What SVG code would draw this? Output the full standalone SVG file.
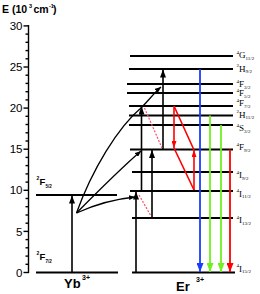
<svg xmlns="http://www.w3.org/2000/svg" width="260" height="294" viewBox="0 0 260 294">
<style>
.lvl{stroke:#000;stroke-width:1.8}
.ax{stroke:#000;stroke-width:1.4}
.tk{font-family:"Liberation Sans",Arial,sans-serif;font-size:11.5px;text-anchor:end;fill:#000}
.lb{font-family:"Liberation Serif","Times New Roman",serif;fill:#000}
.lb .m{font-size:9px}
.lb .s{font-size:5px}
.yl{font-family:"Liberation Sans",Arial,sans-serif;font-weight:bold;fill:#000}
.arr{stroke:#000;stroke-width:1.6;fill:none}
.cur{stroke:#000;stroke-width:1.3;fill:none}
.red{stroke:#ff0000;stroke-width:1.6;fill:none}
.dash{stroke:#ff4d6a;stroke-width:1.2;stroke-dasharray:2 1.5;fill:none}
.em{stroke-width:1.8;fill:none}
</style>
<defs>
<marker id="hk" viewBox="0 0 8 6" refX="8" refY="3" markerWidth="8" markerHeight="6" orient="auto" markerUnits="userSpaceOnUse"><path d="M0,0 L8,3 L0,6 z" fill="#000"/></marker>
<marker id="hs" viewBox="0 0 6 5" refX="6" refY="2.5" markerWidth="6" markerHeight="5" orient="auto" markerUnits="userSpaceOnUse"><path d="M0,0 L6,2.5 L0,5 z" fill="#000"/></marker>
<marker id="hr" viewBox="0 0 7 5" refX="7" refY="2.5" markerWidth="7" markerHeight="5" orient="auto" markerUnits="userSpaceOnUse"><path d="M0,0 L7,2.5 L0,5 z" fill="#ff0000"/></marker>
<marker id="hR" viewBox="0 0 9 7" refX="9" refY="3.5" markerWidth="9" markerHeight="7" orient="auto" markerUnits="userSpaceOnUse"><path d="M0,0 L9,3.5 L0,7 z" fill="#ff0000"/></marker>
<marker id="hb" viewBox="0 0 9 7" refX="9" refY="3.5" markerWidth="9" markerHeight="7" orient="auto" markerUnits="userSpaceOnUse"><path d="M0,0 L9,3.5 L0,7 z" fill="#1a3cff"/></marker>
<marker id="hg" viewBox="0 0 9 7" refX="9" refY="3.5" markerWidth="9" markerHeight="7" orient="auto" markerUnits="userSpaceOnUse"><path d="M0,0 L9,3.5 L0,7 z" fill="#70f020"/></marker>
</defs>
<rect width="260" height="294" fill="#fff"/>

<g id="axis">
<text class="yl" x="2" y="12.5" font-size="10.5">E (10</text>
<text class="yl" x="29" y="8.3" font-size="5.5">3</text>
<text class="yl" x="33.5" y="12.5" font-size="10.5">cm</text>
<text class="yl" x="49" y="8.3" font-size="5.5">-1</text>
<text class="yl" x="53" y="12.5" font-size="10.5">)</text>
<line class="ax" x1="28.5" y1="25" x2="28.5" y2="273"/>
<g class="ax">
<line x1="23.5" y1="25.9" x2="29" y2="25.9"/>
<line x1="23.5" y1="67" x2="29" y2="67"/>
<line x1="23.5" y1="108.1" x2="29" y2="108.1"/>
<line x1="23.5" y1="149.2" x2="29" y2="149.2"/>
<line x1="23.5" y1="190.3" x2="29" y2="190.3"/>
<line x1="23.5" y1="231.4" x2="29" y2="231.4"/>
<line x1="23.5" y1="272.5" x2="29" y2="272.5"/>
</g>
<g class="ax" stroke-width="1">
<line x1="25.5" y1="34.1" x2="28.5" y2="34.1"/><line x1="25.5" y1="42.3" x2="28.5" y2="42.3"/><line x1="25.5" y1="50.6" x2="28.5" y2="50.6"/><line x1="25.5" y1="58.8" x2="28.5" y2="58.8"/>
<line x1="25.5" y1="75.2" x2="28.5" y2="75.2"/><line x1="25.5" y1="83.4" x2="28.5" y2="83.4"/><line x1="25.5" y1="91.7" x2="28.5" y2="91.7"/><line x1="25.5" y1="99.9" x2="28.5" y2="99.9"/>
<line x1="25.5" y1="116.3" x2="28.5" y2="116.3"/><line x1="25.5" y1="124.5" x2="28.5" y2="124.5"/><line x1="25.5" y1="132.8" x2="28.5" y2="132.8"/><line x1="25.5" y1="141" x2="28.5" y2="141"/>
<line x1="25.5" y1="157.4" x2="28.5" y2="157.4"/><line x1="25.5" y1="165.6" x2="28.5" y2="165.6"/><line x1="25.5" y1="173.9" x2="28.5" y2="173.9"/><line x1="25.5" y1="182.1" x2="28.5" y2="182.1"/>
<line x1="25.5" y1="198.5" x2="28.5" y2="198.5"/><line x1="25.5" y1="206.7" x2="28.5" y2="206.7"/><line x1="25.5" y1="215" x2="28.5" y2="215"/><line x1="25.5" y1="223.2" x2="28.5" y2="223.2"/>
<line x1="25.5" y1="239.6" x2="28.5" y2="239.6"/><line x1="25.5" y1="247.8" x2="28.5" y2="247.8"/><line x1="25.5" y1="256.1" x2="28.5" y2="256.1"/><line x1="25.5" y1="264.3" x2="28.5" y2="264.3"/>
</g>
<text class="tk" x="22.5" y="30">30</text>
<text class="tk" x="22.5" y="71.1">25</text>
<text class="tk" x="22.5" y="112.2">20</text>
<text class="tk" x="22.5" y="153.3">15</text>
<text class="tk" x="22.5" y="194.4">10</text>
<text class="tk" x="22.5" y="235.5">5</text>
<text class="tk" x="22.5" y="276.6">0</text>
</g>

<g id="yb-2F52">
<line class="lvl" x1="36" y1="195" x2="117" y2="195"/>
<text class="yl" x="36.5" y="180" font-size="5">2</text>
<text class="yl" x="39.5" y="185" font-size="9.5">F</text>
<text class="yl" x="45.5" y="188" font-size="4.5">5/2</text>
</g>
<g id="yb-2F72">
<line class="lvl" x1="36" y1="272.5" x2="118" y2="272.5"/>
<text class="yl" x="36.5" y="254.5" font-size="5">2</text>
<text class="yl" x="39.5" y="259.5" font-size="9.5">F</text>
<text class="yl" x="45.5" y="262.5" font-size="4.5">7/2</text>
</g>
<g id="yb-label"><text class="yl" x="64" y="288" font-size="13">Yb</text><text class="yl" x="82" y="280" font-size="7">3+</text></g>

<g id="er-4G112"><line class="lvl" x1="130" y1="56" x2="233" y2="56"/><text class="lb" x="236.5" y="58"><tspan class="s" dy="-4.5">4</tspan><tspan class="m" dy="4.5">G</tspan><tspan class="s" dy="1.5">11/2</tspan></text></g>
<g id="er-2H92"><line class="lvl" x1="129" y1="69" x2="233" y2="69"/><text class="lb" x="236.5" y="71.5"><tspan class="s" dy="-4.5">2</tspan><tspan class="m" dy="4.5">H</tspan><tspan class="s" dy="1.5">9/2</tspan></text></g>
<g id="er-4F32"><line class="lvl" x1="127" y1="84" x2="233" y2="84"/><text class="lb" x="236.5" y="87"><tspan class="s" dy="-4.5">4</tspan><tspan class="m" dy="4.5">F</tspan><tspan class="s" dy="1.5">3/2</tspan></text></g>
<g id="er-4F52"><line class="lvl" x1="127" y1="93" x2="233" y2="93"/><text class="lb" x="236.5" y="96"><tspan class="s" dy="-4.5">4</tspan><tspan class="m" dy="4.5">F</tspan><tspan class="s" dy="1.5">5/2</tspan></text></g>
<g id="er-4F72"><line class="lvl" x1="129" y1="106" x2="233" y2="106"/><text class="lb" x="236.5" y="106"><tspan class="s" dy="-4.5">4</tspan><tspan class="m" dy="4.5">F</tspan><tspan class="s" dy="1.5">7/2</tspan></text></g>
<g id="er-2H112"><line class="lvl" x1="129" y1="115.5" x2="233" y2="115.5"/><text class="lb" x="236.5" y="117.5"><tspan class="s" dy="-4.5">2</tspan><tspan class="m" dy="4.5">H</tspan><tspan class="s" dy="1.5">11/2</tspan></text></g>
<g id="er-4S32"><line class="lvl" x1="129" y1="125" x2="233" y2="125"/><text class="lb" x="236.5" y="131"><tspan class="s" dy="-4.5">4</tspan><tspan class="m" dy="4.5">S</tspan><tspan class="s" dy="1.5">3/2</tspan></text></g>
<g id="er-4F92"><line class="lvl" x1="130" y1="149.5" x2="233" y2="149.5"/><text class="lb" x="236.5" y="150"><tspan class="s" dy="-4.5">4</tspan><tspan class="m" dy="4.5">F</tspan><tspan class="s" dy="1.5">9/2</tspan></text></g>
<g id="er-4I92"><line class="lvl" x1="132" y1="172" x2="233" y2="172"/><text class="lb" x="236.5" y="178"><tspan class="s" dy="-4.5">4</tspan><tspan class="m" dy="4.5">I</tspan><tspan class="s" dy="1.5">9/2</tspan></text></g>
<g id="er-4I112"><line class="lvl" x1="130" y1="191" x2="233" y2="191" stroke-width="2.3"/><text class="lb" x="236.5" y="196.5"><tspan class="s" dy="-4.5">4</tspan><tspan class="m" dy="4.5">I</tspan><tspan class="s" dy="1.5">11/2</tspan></text></g>
<g id="er-4I132"><line class="lvl" x1="132" y1="218" x2="233" y2="218"/><text class="lb" x="236.5" y="223"><tspan class="s" dy="-4.5">4</tspan><tspan class="m" dy="4.5">I</tspan><tspan class="s" dy="1.5">13/2</tspan></text></g>
<g id="er-4I152"><line class="lvl" x1="132" y1="272.5" x2="235" y2="272.5"/><text class="lb" x="236.5" y="271.5"><tspan class="s" dy="-4.5">4</tspan><tspan class="m" dy="4.5">I</tspan><tspan class="s" dy="1.5">15/2</tspan></text></g>
<g id="er-label"><text class="yl" x="176" y="290.5" font-size="13">Er</text><text class="yl" x="196" y="282" font-size="7">3+</text></g>

<g id="connectors">
<line class="arr" x1="72" y1="272.5" x2="72" y2="195.5" marker-end="url(#hk)"/>
<line class="arr" x1="136" y1="272.5" x2="136" y2="191.5" marker-end="url(#hk)"/>
<line class="arr" x1="141.5" y1="191" x2="141.5" y2="106.5" marker-end="url(#hk)"/>
<line class="arr" x1="152" y1="218" x2="152" y2="150" marker-end="url(#hk)"/>
<line class="arr" x1="163" y1="149.5" x2="163" y2="69.5" marker-end="url(#hk)"/>
<path class="cur" d="M76.5,213 C92,170 118,127 141.5,107.5 C149,100 155,92 161,87" marker-end="url(#hs)"/>
<path class="cur" d="M76.5,213 Q119,170 141,151" marker-end="url(#hs)"/>
<path class="cur" d="M76.5,213 Q105,200 135,197" marker-end="url(#hs)"/>
<line class="dash" x1="144.5" y1="108" x2="162" y2="148"/>
<line class="dash" x1="139" y1="195" x2="151" y2="216"/>
<line class="red" x1="174" y1="106" x2="174" y2="148" marker-end="url(#hr)"/>
<line class="red" x1="174" y1="106" x2="194" y2="150"/>
<line class="red" x1="174" y1="148" x2="194" y2="190"/>
<line class="red" x1="194" y1="190" x2="194" y2="150" marker-end="url(#hr)"/>
<line class="em" stroke="#1a3cff" x1="200" y1="69" x2="200" y2="272" marker-end="url(#hb)"/>
<line class="em" stroke="#70f020" x1="210" y1="115.5" x2="210" y2="272" marker-end="url(#hg)"/>
<line class="em" stroke="#70f020" x1="221" y1="125" x2="221" y2="272" marker-end="url(#hg)"/>
<line class="em" stroke="#ff0000" x1="230" y1="149.5" x2="230" y2="272" marker-end="url(#hR)"/>
</g>
</svg>
